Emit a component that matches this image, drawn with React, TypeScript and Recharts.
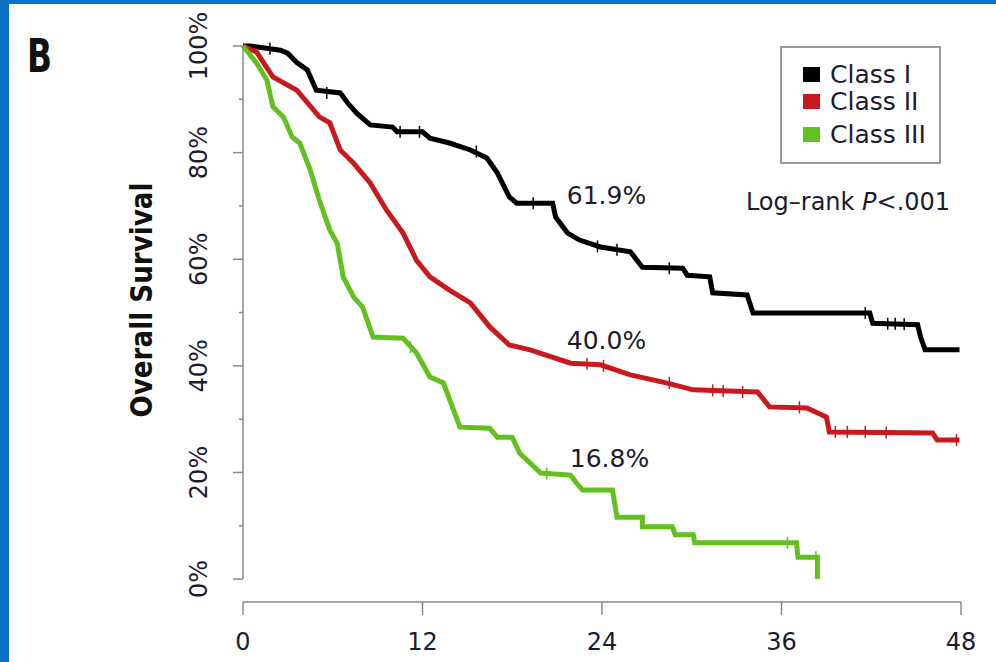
import React from 'react';
import { ComposedChart, Line, Scatter, XAxis, YAxis, ReferenceLine, ReferenceDot } from 'recharts';

// survival curves: [month, % surviving]
const classI: [number, number][] = [
  [0, 100], [0.5, 100], [2.5, 99.2], [3.0, 98.6], [3.6, 96.9], [4.3, 95.5], [4.9, 91.7],
  [6.5, 91.2], [7.0, 89.3], [7.6, 87.4], [8.5, 85.2], [10.0, 84.8], [10.3, 83.9], [12.0, 83.9],
  [12.5, 82.7], [13.8, 81.8], [15.2, 80.5], [16.3, 79.0], [17.0, 76.2], [17.8, 71.7], [18.3, 70.5],
  [20.7, 70.5], [20.9, 67.9], [21.7, 64.9], [22.5, 63.6], [23.9, 62.3], [25.9, 61.4], [26.7, 58.5],
  [29.4, 58.3], [29.7, 57.0], [31.2, 56.7], [31.4, 53.7], [33.7, 53.3], [34.1, 49.9], [41.9, 49.9],
  [42.1, 48.0], [45.1, 47.7], [45.3, 45.4], [45.6, 43.0], [47.9, 43.0],
];
const classII: [number, number][] = [
  [0, 100], [0.9, 98.9], [2.0, 94.2], [3.6, 91.7], [5.1, 86.7], [5.8, 85.6], [6.5, 80.5],
  [7.4, 78.0], [8.5, 74.3], [9.6, 69.2], [10.7, 64.9], [11.6, 59.8], [12.5, 56.7], [13.8, 54.2],
  [15.2, 51.8], [16.5, 47.3], [17.8, 43.9], [19.2, 43.0], [21.9, 40.5], [23.9, 40.2], [25.9, 38.3],
  [28.3, 36.8], [30.1, 35.5], [34.4, 35.1], [35.2, 32.3], [37.7, 32.1], [39.0, 30.4], [39.2, 27.6],
  [46.1, 27.4], [46.4, 26.1], [47.9, 26.1],
];
const classIII: [number, number][] = [
  [0, 100], [0.9, 96.8], [1.6, 93.6], [2.0, 88.6], [2.7, 86.7], [3.3, 82.9], [3.8, 81.8],
  [4.5, 76.7], [5.1, 71.1], [5.8, 65.5], [6.3, 63.0], [6.7, 56.7], [7.4, 52.9], [8.0, 51.0],
  [8.7, 45.4], [10.7, 45.2], [11.6, 42.4], [12.5, 37.9], [13.4, 36.8], [14.5, 28.5], [16.5, 28.3],
  [17.0, 26.6], [18.0, 26.6], [18.5, 23.6], [19.9, 19.9], [21.9, 19.5], [22.3, 18.0], [22.7, 16.7],
  [24.7, 16.7], [25.0, 11.6], [26.7, 11.6], [26.7, 9.8], [28.7, 9.8], [28.9, 8.3], [30.1, 8.3],
  [30.2, 6.8], [37.0, 6.8], [37.1, 4.1], [38.4, 4.1], [38.4, 0],
];

// censored observations (small ticks on the curves)
const censorI: [number, number][] = [
  [1.8, 99.5], [5.6, 91.2], [10.5, 83.9], [11.8, 83.9], [15.6, 80.2], [19.4, 70.5], [23.7, 62.4],
  [25.0, 61.8], [28.5, 58.3], [41.6, 49.9], [43.1, 47.9], [43.6, 47.9], [44.2, 47.8],
];
const censorII: [number, number][] = [
  [23.0, 40.4], [24.1, 40.0], [28.5, 36.8], [31.4, 35.4], [32.1, 35.3], [33.4, 35.1], [37.2, 32.2],
  [39.6, 27.6], [40.4, 27.6], [41.6, 27.6], [43.0, 27.5], [47.7, 26.1],
];
const censorIII: [number, number][] = [
  [11.2, 43.5], [20.3, 19.8], [36.4, 6.8], [38.3, 4.1],
];

const seriesNames = ['Class I', 'Class II', 'Class III'];
const seriesColors = ['#000000', '#C8191E', '#62C11E'];
const endLabels = ['61.9%', '40.0%', '16.8%'];
const endLabelPos: [number, number][] = [[24.3, 72], [24.3, 44.8], [24.5, 22.7]];

const monthTicks = [0, 12, 24, 36, 48];
const pctTicks = [0, 10, 20, 30, 40, 50, 60, 70, 80, 90, 100];

const FONT = '"DejaVu Sans", Verdana, sans-serif';
const AXIS = '#8a8a8a';
const TEXT = '#1c1c2c';

const toRows = (pts: [number, number][]) => pts.map(([m, s]) => ({ m, s }));

const YTick = ({ x, y, payload }: any) => {
  const major = payload.value % 20 === 0;
  const lx = x - 44;
  return (
    <g>
      <line x1={x - (major ? 10 : 4)} x2={x} y1={y} y2={y} stroke={AXIS} strokeWidth={1.5} />
      {major && (
        <text
          x={lx}
          y={y}
          transform={`rotate(-90 ${lx} ${y})`}
          textAnchor="middle"
          dominantBaseline="central"
          fontSize={24}
          fontFamily={FONT}
          fill={TEXT}
        >
          {payload.value}%
        </text>
      )}
    </g>
  );
};

const censorShape = (color: string) => (props: any) => (
  <line x1={props.cx} x2={props.cx} y1={props.cy - 6} y2={props.cy + 6} stroke={color} strokeWidth={1.5} />
);

export default function App() {
  const curves = [classI, classII, classIII];
  const censors = [censorI, censorII, censorIII];
  const legendBaselines = [83, 110, 143];

  return (
    <div style={{ position: 'absolute', left: 0, top: 0, width: 996, height: 662, background: '#fff', overflow: 'hidden' }}>
      <ComposedChart width={996} height={662} margin={{ top: 46, right: 35, bottom: 0, left: 143 }}>
        <XAxis
          type="number"
          dataKey="m"
          domain={[0, 48]}
          ticks={monthTicks}
          interval={0}
          height={60}
          axisLine={{ stroke: AXIS, strokeWidth: 1.5 }}
          tickLine={{ stroke: AXIS, strokeWidth: 1.5 }}
          tickSize={13}
          tickMargin={18}
          tick={{ fontSize: 24, fill: TEXT, fontFamily: FONT }}
        />
        <YAxis
          type="number"
          dataKey="s"
          domain={[-4.3, 100]}
          ticks={pctTicks}
          interval={0}
          width={100}
          axisLine={false}
          tickLine={false}
          tickSize={0}
          tickMargin={0}
          tick={<YTick />}
        />
        <ReferenceLine segment={[{ x: 0, y: 0 }, { x: 0, y: 100 }]} stroke={AXIS} strokeWidth={1.5} />
        {curves.map((pts, i) => (
          <Line
            key={seriesNames[i]}
            data={toRows(pts)}
            dataKey="s"
            type="linear"
            stroke={seriesColors[i]}
            strokeWidth={5}
            dot={false}
            isAnimationActive={false}
          />
        ))}
        {censors.map((pts, i) => (
          <Scatter
            key={'c' + i}
            data={toRows(pts)}
            dataKey="s"
            shape={censorShape(seriesColors[i])}
            isAnimationActive={false}
          />
        ))}
        {endLabels.map((t, i) => (
          <ReferenceDot
            key={t}
            x={endLabelPos[i][0]}
            y={endLabelPos[i][1]}
            r={0}
            stroke="none"
            fill="none"
            label={{ value: t, position: 'center', fontSize: 25, fill: TEXT, fontFamily: FONT }}
          />
        ))}
      </ComposedChart>

      <svg width={996} height={662} style={{ position: 'absolute', left: 0, top: 0, pointerEvents: 'none' }}>
        <rect x={0} y={0} width={9} height={662} fill="#0A72C6" />
        <rect x={0} y={0} width={996} height={4} fill="#0A72C6" />
        <text x={27} y={72} fontSize={46} fontWeight="bold" fontFamily={FONT} fill="#111" textLength={25} lengthAdjust="spacingAndGlyphs">
          B
        </text>
        <text
          x={141}
          y={300}
          transform="rotate(-90 141 300)"
          textAnchor="middle"
          dominantBaseline="central"
          fontSize={30}
          fontWeight="bold"
          fontFamily={FONT}
          fill="#111"
          textLength={235}
          lengthAdjust="spacingAndGlyphs"
        >
          Overall Survival
        </text>

        <rect x={781} y={47} width={159} height={116} fill="#fff" stroke="#999" strokeWidth={2} />
        {seriesNames.map((n, i) => (
          <g key={n}>
            <rect x={803} y={legendBaselines[i] - 16} width={17} height={15} fill={seriesColors[i]} />
            <text x={830} y={legendBaselines[i]} fontSize={25} fontFamily={FONT} fill={TEXT}>
              {n}
            </text>
          </g>
        ))}

        <text x={848} y={202} textAnchor="middle" dominantBaseline="central" fontSize={24} fontFamily={FONT} fill={TEXT}>
          Log–rank <tspan fontStyle="italic">P</tspan>&lt;.001
        </text>
      </svg>
    </div>
  );
}
